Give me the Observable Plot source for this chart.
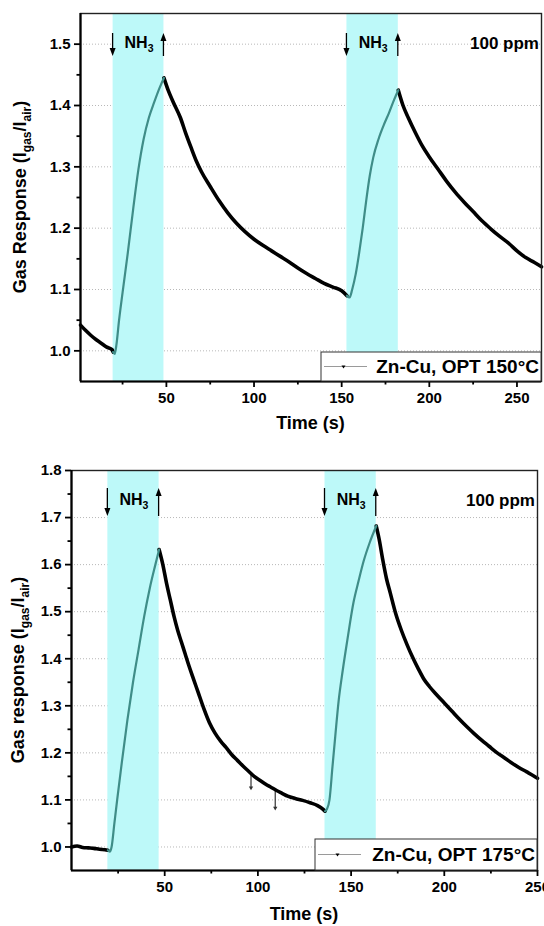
<!DOCTYPE html>
<html><head><meta charset="utf-8">
<script src="https://cdn.jsdelivr.net/npm/d3@7"></script>
<script src="https://cdn.jsdelivr.net/npm/@observablehq/plot@0.6"></script>
<style>
body{margin:0;background:#fff;font-family:"Liberation Sans",Arial,sans-serif;}
#c{position:relative;width:544px;height:926px;overflow:hidden;}
#c svg{position:absolute;left:0;}
</style></head><body><div id="c"></div>
<script>
// ---------- Data: Zn-Cu, OPT 150°C ----------
const top_time = [1,4,7,10,13,16,19,19.6,20.5,21.5,23,25,28,31,34,37,40,43,46,48.6,
  51,54,58,61,64,67,70,75,80,85,90,95,100,105,110,115,120,125,130,135,140,145,150,153,
  154.5,156,158,160,162,164,166,168,171,174,177,180,182.3,
  185,188,192,196,200,205,210,215,220,225,230,235,240,245,250,255,260,264];
const top_resp = [1.042,1.033,1.025,1.018,1.012,1.006,1.002,0.998,0.995,1.010,1.050,1.095,1.160,1.230,1.295,1.345,1.380,1.405,1.428,1.445,
  1.425,1.405,1.380,1.355,1.332,1.310,1.292,1.268,1.245,1.225,1.208,1.194,1.182,1.172,1.163,1.154,1.145,1.135,1.126,1.118,1.110,1.104,1.098,1.090,
  1.087,1.100,1.125,1.160,1.200,1.245,1.285,1.315,1.345,1.368,1.388,1.410,1.425,
  1.400,1.380,1.356,1.334,1.316,1.296,1.276,1.258,1.242,1.227,1.212,1.199,1.187,1.176,1.163,1.152,1.144,1.137];
const top_gasOn = [19.6, 153];
const top_gasOff = [48.6, 182.3];
const top_xTicks = [50,100,150,200,250];
const top_xMinor = [25,75,125,175,225];
const top_yTicks = [1.0,1.1,1.2,1.3,1.4,1.5];
const top_yMinor = [1.05,1.15,1.25,1.35,1.45];
const top_spikeTime = [];
const top_spikeHigh = [];
const top_spikeLow = [];

// ---------- Data: Zn-Cu, OPT 175°C ----------
const bot_time = [0,3,6,9,12,15,18,19.5,20.5,21.5,23,24.5,27,30,33,36,39,42,45,47,
  49,51,53,55,57,59,61,63,65,68,71,74,77,80,83,86,89,92,95,98,101,104,107,110,113,116,120,124,128,132,135,136,
  137,138.4,140,141.5,143.3,145.5,148,151.3,154,156.7,160,163.5,
  165,167,169,171,174,177,180,183,186,189,192,196,200,204,208,212,216,220,224,228,232,236,240,244,248,250];
const bot_resp = [1.000,1.002,0.999,0.998,0.997,0.995,0.994,0.993,0.990,1.000,1.050,1.100,1.180,1.270,1.350,1.420,1.490,1.550,1.600,1.632,
  1.600,1.560,1.525,1.490,1.460,1.435,1.410,1.385,1.362,1.328,1.294,1.264,1.242,1.225,1.211,1.196,1.184,1.172,1.161,1.150,1.142,1.134,1.127,1.120,1.114,1.108,1.103,1.099,1.094,1.088,1.080,1.076,
  1.080,1.100,1.170,1.235,1.310,1.375,1.440,1.520,1.565,1.607,1.647,1.682,
  1.655,1.610,1.570,1.540,1.495,1.460,1.430,1.403,1.379,1.357,1.341,1.323,1.306,1.289,1.272,1.256,1.241,1.227,1.214,1.201,1.190,1.179,1.169,1.160,1.151,1.146];
const bot_gasOn = [19.5, 136];
const bot_gasOff = [47, 163.5];
const bot_xTicks = [50,100,150,200,250];
const bot_xMinor = [25,75,125,175,225];
const bot_yTicks = [1.0,1.1,1.2,1.3,1.4,1.5,1.6,1.7,1.8];
const bot_yMinor = [1.05,1.15,1.25,1.35,1.45,1.55,1.65,1.75];
const bot_spikeTime = [96.3, 109.3];
const bot_spikeHigh = [1.158, 1.121];
const bot_spikeLow = [1.126, 1.083];

const FONT = '"Liberation Sans", Arial, sans-serif';

function build(cfg) {
  const bands = cfg.on.map((s, i) => ({start: s, end: cfg.off[i]}));
  const rows = cfg.time.map((t, i) => ({t, r: cfg.resp[i]}));
  const spikes = cfg.spikeTime.map((t, i) => ({t, hi: cfg.spikeHigh[i], lo: cfg.spikeLow[i]}));
  const air = [], gas = [];
  rows.forEach(d => {
    const bi = bands.findIndex(b => d.t >= b.start && d.t <= b.end);
    const isBoundary = bands.some(b => d.t === b.start || d.t === b.end);
    if (bi >= 0) gas.push({...d, seg: "g" + bi});
    if (bi < 0 || isBoundary) {
      let k = bands.filter(b => d.t > b.start).length;
      if (bands.some(b => d.t === b.start)) k = bands.findIndex(b => d.t === b.start);
      air.push({...d, seg: "a" + k});
    }
  });
  const [ymin, ymax] = cfg.yDomain;
  const [xmin] = cfg.xDomain;
  const plot = Plot.plot({
    width: 544, height: cfg.height,
    marginTop: cfg.mt, marginRight: cfg.mr, marginBottom: cfg.mb, marginLeft: cfg.ml,
    x: {domain: cfg.xDomain},
    y: {domain: cfg.yDomain},
    style: {fontFamily: FONT, fontWeight: "bold", fontSize: "15px", color: "#000", background: "transparent", overflow: "visible"},
    marks: [
      Plot.gridY(cfg.yTicks.filter(v => v < ymax - 1e-9), {stroke: "#b8b8b8", strokeOpacity: 1, strokeWidth: 1, strokeDasharray: "1,2"}),
      Plot.rect(bands, {x1: "start", x2: "end", fill: "#bdf9f9"}),
      Plot.ruleX(spikes, {x: "t", y1: "hi", y2: "lo", stroke: "#333", strokeWidth: 1.2}),
      Plot.dot(spikes, {x: "t", y: "lo", symbol: "triangle", r: 1.6, fill: "#333", rotate: 180}),
      Plot.line(air, {x: "t", y: "r", z: "seg", stroke: "#000", strokeWidth: 3.6, strokeLinejoin: "round", curve: "monotone-x"}),
      Plot.line(gas, {x: "t", y: "r", z: "seg", stroke: "#3f8d88", strokeWidth: 2.2, strokeLinejoin: "round", curve: "monotone-x"}),
      Plot.frame({stroke: "#222", strokeWidth: 1.4}),
      Plot.ruleX([xmin], {stroke: "#000", strokeWidth: 2.2}),
      Plot.ruleY([ymin], {stroke: "#000", strokeWidth: 2.2}),
      Plot.axisX(cfg.xTicks, {tickSize: 6, tickPadding: 5, strokeWidth: 1.8, label: null, tickFormat: d => String(d), fontSize: 15}),
      Plot.axisX(cfg.xMinor, {tickSize: 3.5, strokeWidth: 1.8, label: null, tickFormat: () => ""}),
      Plot.axisY(cfg.yTicks, {tickSize: 6, tickPadding: 4, strokeWidth: 1.8, label: null, tickFormat: d => d.toFixed(1), fontSize: 15}),
      Plot.axisY(cfg.yMinor, {tickSize: 3.5, strokeWidth: 1.8, label: null, tickFormat: () => ""})
    ]
  });
  plot.style.top = cfg.top + "px";
  const svg = d3.select(plot);
  const xs = plot.scale("x"), ys = plot.scale("y");
  const X = v => xs.apply(v), Y = v => ys.apply(v);
  const fTop = Y(ymax), fBot = Y(ymin), fL = X(cfg.xDomain[0]), fR = X(cfg.xDomain[1]);
  const g = svg.append("g").attr("font-family", FONT).attr("font-weight", "bold").attr("fill", "#000");

  const arrow = (x, yFrom, yTo) => {
    const dir = Math.sign(yTo - yFrom);
    g.append("line").attr("x1", x).attr("x2", x).attr("y1", yFrom).attr("y2", yTo - dir * 6)
      .attr("stroke", "#000").attr("stroke-width", 1.3);
    g.append("path").attr("d", `M${x - 3},${yTo - dir * 8} L${x + 3},${yTo - dir * 8} L${x},${yTo} Z`).attr("fill", "#000");
  };
  bands.forEach(b => {
    arrow(X(b.start), fTop + cfg.arTop, fTop + cfg.arBot);
    arrow(X(b.end), fTop + cfg.arBot, fTop + cfg.arTop);
    const t = g.append("text").attr("x", (X(b.start) + X(b.end)) / 2 + 1).attr("y", fTop + cfg.nhY)
      .attr("text-anchor", "middle").attr("font-size", 16);
    t.append("tspan").text("NH");
    t.append("tspan").attr("font-size", 10.5).attr("dy", 4).text("3");
  });
  g.append("text").attr("x", fR - 2).attr("y", fTop + cfg.ppmY).attr("text-anchor", "end")
    .attr("font-size", 17).text("100 ppm");

  const lg = g.append("g");
  lg.append("rect").attr("x", cfg.legX).attr("y", fBot - cfg.legH).attr("width", fR - cfg.legX).attr("height", cfg.legH)
    .attr("fill", "#fff").attr("stroke", "#333").attr("stroke-width", 1);
  const ly = fBot - cfg.legH / 2;
  lg.append("line").attr("x1", cfg.legX + 3).attr("x2", cfg.legX + 46).attr("y1", ly).attr("y2", ly)
    .attr("stroke", "#9a9a9a").attr("stroke-width", 1.2);
  lg.append("path").attr("d", `M${cfg.legX + 22.5},${ly + 2} l-2,-3 l4,0 Z`).attr("fill", "#000");
  lg.append("text").attr("x", fR - 2).attr("y", ly).attr("dy", "0.36em").attr("text-anchor", "end")
    .attr("font-size", 19).text(cfg.legend);

  g.append("text").attr("x", (fL + fR) / 2).attr("y", fBot + cfg.xTitleY).attr("text-anchor", "middle")
    .attr("font-size", 18).text("Time (s)");
  const yt = g.append("text").attr("transform", `translate(${cfg.yTitleX},${(fTop + fBot) / 2}) rotate(-90)`)
    .attr("text-anchor", "middle").attr("font-size", 18);
  yt.append("tspan").text(cfg.yTitle + " (I");
  yt.append("tspan").attr("font-size", 12).attr("dy", 5).text("gas");
  yt.append("tspan").attr("dy", -5).text("/I");
  yt.append("tspan").attr("font-size", 12).attr("dy", 5).text("air");
  yt.append("tspan").attr("dy", -5).text(")");
  return plot;
}

const c = document.getElementById("c");
c.appendChild(build({
  time: top_time, resp: top_resp, on: top_gasOn, off: top_gasOff,
  spikeTime: top_spikeTime, spikeHigh: top_spikeHigh, spikeLow: top_spikeLow,
  xTicks: top_xTicks, xMinor: top_xMinor, yTicks: top_yTicks, yMinor: top_yMinor,
  xDomain: [1, 264], yDomain: [0.95, 1.55],
  top: 0, height: 440, mt: 13, mb: 59, ml: 80, mr: 3,
  arTop: 20, arBot: 43, nhY: 35, ppmY: 36,
  legX: 321, legH: 29, legend: "Zn-Cu, OPT 150°C",
  xTitleY: 48, yTitleX: 26, yTitle: "Gas Response"
}));
c.appendChild(build({
  time: bot_time, resp: bot_resp, on: bot_gasOn, off: bot_gasOff,
  spikeTime: bot_spikeTime, spikeHigh: bot_spikeHigh, spikeLow: bot_spikeLow,
  xTicks: bot_xTicks, xMinor: bot_xMinor, yTicks: bot_yTicks, yMinor: bot_yMinor,
  xDomain: [0, 250], yDomain: [0.95, 1.8],
  top: 440, height: 486, mt: 30, mb: 56, ml: 71, mr: 7,
  arTop: 18, arBot: 46, nhY: 35, ppmY: 36,
  legX: 315, legH: 31, legend: "Zn-Cu, OPT 175°C",
  xTitleY: 50, yTitleX: 24, yTitle: "Gas response"
}));
</script></body></html>
